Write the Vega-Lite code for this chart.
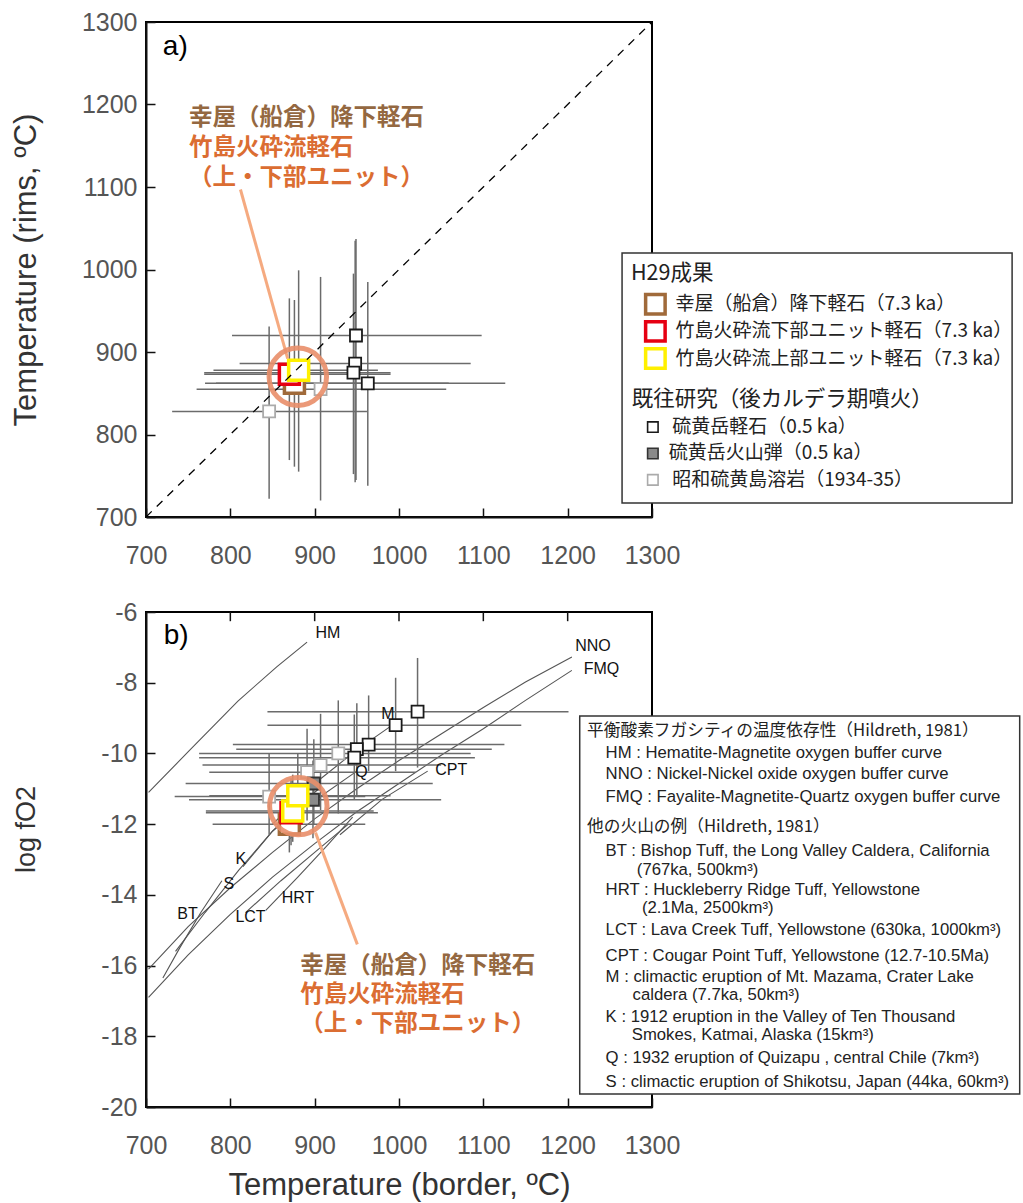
{
  "$schema": "https://vega.github.io/schema/vega-lite/v6.json",
  "padding": {"left": 8, "top": 9, "right": 0, "bottom": 2},
  "spacing": 30,
  "background": "white",
  "config": {
    "view": {"stroke": "black", "strokeWidth": 2},
    "axis": {"grid": false, "domainColor": "#111", "domainWidth": 2, "tickColor": "#111", "tickWidth": 1.5, "tickSize": -9,
      "labelFont": "Liberation Sans", "labelFontSize": 25, "labelColor": "#555", "labelOverlap": false, "labelFlush": false,
      "titleFont": "Liberation Sans", "titleFontSize": 31, "titleFontWeight": "normal", "titleColor": "#333"},
    "axisX": {"labelPadding": 35, "titlePadding": 12},
    "axisY": {"labelPadding": 18}
  },
  "datasets": {
    "pa": [
      {"g": "昭和硫黄島溶岩", "x": 846, "y": 828, "xlo": 731, "xhi": 962, "ylo": 722, "yhi": 931},
      {"g": "昭和硫黄島溶岩", "x": 907, "y": 855, "xlo": 760, "xhi": 1056, "ylo": 720, "yhi": 991},
      {"g": "硫黄岳軽石", "x": 949, "y": 920, "xlo": 802, "xhi": 1098, "ylo": 745, "yhi": 1037},
      {"g": "硫黄岳軽石", "x": 948, "y": 886, "xlo": 811, "xhi": 1085, "ylo": 742, "yhi": 1035},
      {"g": "硫黄岳軽石", "x": 946, "y": 875, "xlo": 769, "xhi": 990, "ylo": 752, "yhi": 995},
      {"g": "硫黄岳軽石", "x": 963, "y": 862, "xlo": 770, "xhi": 1126, "ylo": 738, "yhi": 985},
      {"g": "幸屋", "x": 876, "y": 862, "xlo": 783, "xhi": 1059, "ylo": 761, "yhi": 963},
      {"g": "竹島下部", "x": 870, "y": 873, "xlo": 769, "xhi": 990, "ylo": 769, "yhi": 965},
      {"g": "竹島上部", "x": 881, "y": 878, "xlo": 780, "xhi": 975, "ylo": 755, "yhi": 999}
    ],
    "pb": [
      {"g": "硫黄岳軽石", "x": 1022, "y": -8.82, "xlo": 844, "xhi": 1201, "ylo": -10.4, "yhi": -7.3},
      {"g": "硫黄岳軽石", "x": 996, "y": -9.2, "xlo": 844, "xhi": 1145, "ylo": -10.5, "yhi": -7.86},
      {"g": "硫黄岳軽石", "x": 964, "y": -9.75, "xlo": 803, "xhi": 1125, "ylo": -10.5, "yhi": -8.36},
      {"g": "硫黄岳軽石", "x": 950, "y": -9.88, "xlo": 807, "xhi": 1110, "ylo": -11.2, "yhi": -8.58},
      {"g": "硫黄岳軽石", "x": 947, "y": -10.12, "xlo": 763, "xhi": 1090, "ylo": -11.3, "yhi": -8.9},
      {"g": "昭和硫黄島溶岩", "x": 928, "y": -10.0, "xlo": 763, "xhi": 1085, "ylo": -11.7, "yhi": -8.5},
      {"g": "昭和硫黄島溶岩", "x": 907, "y": -10.33, "xlo": 767, "xhi": 1050, "ylo": -11.6, "yhi": -8.88},
      {"g": "昭和硫黄島溶岩", "x": 891, "y": -10.53, "xlo": 775, "xhi": 1020, "ylo": -11.9, "yhi": -9.3},
      {"g": "昭和硫黄島溶岩", "x": 846, "y": -11.22, "xlo": 734, "xhi": 960, "ylo": -12.3, "yhi": -10.0},
      {"g": "硫黄岳火山弾", "x": 899, "y": -10.85, "xlo": 747, "xhi": 1040, "ylo": -12.0, "yhi": -9.6},
      {"g": "硫黄岳火山弾", "x": 898, "y": -11.31, "xlo": 751, "xhi": 1050, "ylo": -12.4, "yhi": -10.2},
      {"g": "幸屋", "x": 870, "y": -12.0, "xlo": 779, "xhi": 960, "ylo": -12.8, "yhi": -11.0},
      {"g": "竹島下部", "x": 872, "y": -11.68, "xlo": 771, "xhi": 975, "ylo": -12.6, "yhi": -10.7},
      {"g": "竹島上部", "x": 874, "y": -11.63, "xlo": 771, "xhi": 970, "ylo": -12.5, "yhi": -10.6},
      {"g": "竹島上部", "x": 880, "y": -11.2, "xlo": 775, "xhi": 990, "ylo": -12.3, "yhi": -10.0}
    ],
    "curves": [
      {"c": "HM", "x": 703, "y": -11.1}, {"c": "HM", "x": 751, "y": -9.93}, {"c": "HM", "x": 809, "y": -8.52}, {"c": "HM", "x": 855, "y": -7.55}, {"c": "HM", "x": 891, "y": -6.85},
      {"c": "NNO", "x": 703, "y": -16.1}, {"c": "NNO", "x": 750, "y": -14.9}, {"c": "NNO", "x": 800, "y": -13.8}, {"c": "NNO", "x": 850, "y": -12.8}, {"c": "NNO", "x": 900, "y": -11.85}, {"c": "NNO", "x": 950, "y": -11.0}, {"c": "NNO", "x": 1000, "y": -10.2}, {"c": "NNO", "x": 1050, "y": -9.45}, {"c": "NNO", "x": 1100, "y": -8.7}, {"c": "NNO", "x": 1150, "y": -7.98}, {"c": "NNO", "x": 1205, "y": -7.27},
      {"c": "FMQ", "x": 703, "y": -16.9}, {"c": "FMQ", "x": 750, "y": -15.7}, {"c": "FMQ", "x": 800, "y": -14.55}, {"c": "FMQ", "x": 850, "y": -13.5}, {"c": "FMQ", "x": 900, "y": -12.55}, {"c": "FMQ", "x": 950, "y": -11.65}, {"c": "FMQ", "x": 1000, "y": -10.85}, {"c": "FMQ", "x": 1050, "y": -10.05}, {"c": "FMQ", "x": 1100, "y": -9.3}, {"c": "FMQ", "x": 1150, "y": -8.5}, {"c": "FMQ", "x": 1205, "y": -7.65},
      {"c": "BT", "x": 720, "y": -16.35}, {"c": "BT", "x": 740, "y": -15.5}, {"c": "BT", "x": 765, "y": -14.5}, {"c": "BT", "x": 790, "y": -13.6},
      {"c": "S", "x": 735, "y": -15.6}, {"c": "S", "x": 770, "y": -14.5}, {"c": "S", "x": 810, "y": -13.3}, {"c": "S", "x": 850, "y": -12.2}, {"c": "S", "x": 895, "y": -11.3},
      {"c": "K", "x": 815, "y": -13.2}, {"c": "K", "x": 850, "y": -12.2}, {"c": "K", "x": 880, "y": -11.5}, {"c": "K", "x": 905, "y": -11.0},
      {"c": "M", "x": 850, "y": -12.0}, {"c": "M", "x": 900, "y": -10.85}, {"c": "M", "x": 950, "y": -9.9}, {"c": "M", "x": 995, "y": -9.15},
      {"c": "Q", "x": 890, "y": -11.5}, {"c": "Q", "x": 950, "y": -10.5},
      {"c": "LCT", "x": 818, "y": -14.5}, {"c": "LCT", "x": 860, "y": -13.6}, {"c": "LCT", "x": 900, "y": -12.8}, {"c": "LCT", "x": 940, "y": -12.0},
      {"c": "HRT", "x": 842, "y": -14.44}, {"c": "HRT", "x": 880, "y": -13.5}, {"c": "HRT", "x": 915, "y": -12.6}, {"c": "HRT", "x": 945, "y": -11.8},
      {"c": "CPT", "x": 930, "y": -12.3}, {"c": "CPT", "x": 980, "y": -11.3}, {"c": "CPT", "x": 1034, "y": -10.5}
    ],
    "curveLabels": [
      {"t": "HM", "x": 901, "y": -6.58}, {"t": "NNO", "x": 1209, "y": -6.97}, {"t": "FMQ", "x": 1219, "y": -7.62},
      {"t": "CPT", "x": 1043, "y": -10.48}, {"t": "M", "x": 979, "y": -8.88}, {"t": "Q", "x": 948, "y": -10.53},
      {"t": "K", "x": 806, "y": -12.98}, {"t": "S", "x": 792, "y": -13.68}, {"t": "BT", "x": 737, "y": -14.54},
      {"t": "LCT", "x": 806, "y": -14.62}, {"t": "HRT", "x": 861, "y": -14.09}
    ],
    "topTicks": [{"x": 800}, {"x": 900}, {"x": 1000}, {"x": 1100}, {"x": 1200}],
    "legA_sym": [
      {"g": "幸屋", "x": 1304, "y": 958}, {"g": "竹島下部", "x": 1304, "y": 925}, {"g": "竹島上部", "x": 1304, "y": 892},
      {"g": "硫黄岳軽石", "x": 1301, "y": 809}, {"g": "硫黄岳火山弾", "x": 1301, "y": 777}, {"g": "昭和硫黄島溶岩", "x": 1301, "y": 745}
    ],
    "legA_txt": [
      {"t": "幸屋（船倉）降下軽石（7.3 ka）", "x": 1328, "y": 958},
      {"t": "竹島火砕流下部ユニット軽石（7.3 ka）", "x": 1328, "y": 925},
      {"t": "竹島火砕流上部ユニット軽石（7.3 ka）", "x": 1328, "y": 892},
      {"t": "硫黄岳軽石（0.5 ka）", "x": 1324, "y": 809},
      {"t": "硫黄岳火山弾（0.5 ka）", "x": 1320, "y": 777},
      {"t": "昭和硫黄島溶岩（1934-35）", "x": 1324, "y": 745}
    ],
    "legA_head": [
      {"t": "H29成果", "x": 1275, "y": 995},
      {"t": "既往研究（後カルデラ期噴火）", "x": 1276, "y": 842}
    ],
    "legB_head": [
      {"t": "平衡酸素フガシティの温度依存性（Hildreth, 1981）", "x": 1223, "y": -9.37},
      {"t": "他の火山の例（Hildreth, 1981）", "x": 1223, "y": -12.08}
    ],
    "legB_txt": [
      {"t": "HM : Hematite-Magnetite oxygen buffer curve", "x": 1245, "y": -9.98},
      {"t": "NNO : Nickel-Nickel oxide oxygen buffer curve", "x": 1245, "y": -10.59},
      {"t": "FMQ : Fayalite-Magnetite-Quartz oxygen buffer curve", "x": 1245, "y": -11.23},
      {"t": "BT : Bishop Tuff, the Long Valley Caldera, California", "x": 1245, "y": -12.76},
      {"t": "(767ka, 500km³)", "x": 1282, "y": -13.3},
      {"t": "HRT : Huckleberry Ridge Tuff, Yellowstone", "x": 1245, "y": -13.87},
      {"t": "(2.1Ma, 2500km³)", "x": 1288, "y": -14.38},
      {"t": "LCT : Lava Creek Tuff, Yellowstone (630ka, 1000km³)", "x": 1245, "y": -15.0},
      {"t": "CPT : Cougar Point Tuff, Yellowstone (12.7-10.5Ma)", "x": 1245, "y": -15.73},
      {"t": "M : climactic eruption  of Mt. Mazama, Crater Lake", "x": 1245, "y": -16.31},
      {"t": "caldera (7.7ka, 50km³)", "x": 1277, "y": -16.83},
      {"t": "K : 1912 eruption in the Valley of Ten Thousand", "x": 1245, "y": -17.45},
      {"t": "Smokes, Katmai, Alaska (15km³)", "x": 1276, "y": -17.96},
      {"t": "Q : 1932 eruption of Quizapu , central Chile (7km³)", "x": 1245, "y": -18.62},
      {"t": "S : climactic eruption of Shikotsu, Japan (44ka, 60km³)", "x": 1245, "y": -19.28}
    ],
    "annA": [
      {"k": "幸屋", "t": "幸屋（船倉）降下軽石", "x": 751, "y": 1184},
      {"k": "竹島", "t": "竹島火砕流軽石", "x": 751, "y": 1147},
      {"k": "竹島", "t": "（上・下部ユニット）", "x": 751, "y": 1111}
    ],
    "annB": [
      {"k": "幸屋", "t": "幸屋（船倉）降下軽石", "x": 883, "y": -16.01},
      {"k": "竹島", "t": "竹島火砕流軽石", "x": 883, "y": -16.84},
      {"k": "竹島", "t": "（上・下部ユニット）", "x": 883, "y": -17.66}
    ]
  },
  "vconcat": [
    {
      "width": 506,
      "height": 495,
      "layer": [
        {
          "data": {"name": "pa"},
          "mark": {"type": "rule", "color": "#6b6b6b", "strokeWidth": 1.5},
          "encoding": {
            "x": {"field": "xlo", "type": "quantitative", "scale": {"domain": [700, 1300], "nice": false, "zero": false},
              "axis": {"values": [700, 800, 900, 1000, 1100, 1200, 1300], "format": "d", "title": null}},
            "x2": {"field": "xhi"},
            "y": {"field": "y", "type": "quantitative", "scale": {"domain": [700, 1300], "nice": false, "zero": false},
              "axis": {"values": [700, 800, 900, 1000, 1100, 1200, 1300], "format": "d", "title": "Temperature (rims, ºC)", "titleX": -120, "titleBaseline": "middle"}}
          }
        },
        {
          "data": {"name": "pa"},
          "mark": {"type": "rule", "color": "#6b6b6b", "strokeWidth": 1.5},
          "encoding": {
            "x": {"field": "x", "type": "quantitative"},
            "y": {"field": "ylo", "type": "quantitative"},
            "y2": {"field": "yhi"}
          }
        },
        {
          "data": {"name": "pa"},
          "transform": [{"filter": {"field": "g", "oneOf": ["硫黄岳軽石", "硫黄岳火山弾", "昭和硫黄島溶岩"]}}],
          "mark": {"type": "point", "shape": "square", "filled": true, "opacity": 1, "size": 144, "strokeWidth": 1.8},
          "encoding": {
            "x": {"field": "x", "type": "quantitative"},
            "y": {"field": "y", "type": "quantitative"},
            "fill": {"field": "g", "type": "nominal", "legend": null, "scale": {"domain": ["幸屋", "竹島下部", "竹島上部", "硫黄岳軽石", "硫黄岳火山弾", "昭和硫黄島溶岩"], "range": ["white", "white", "white", "white", "#8a8a8a", "white"]}},
            "stroke": {"field": "g", "type": "nominal", "legend": null, "scale": {"domain": ["幸屋", "竹島下部", "竹島上部", "硫黄岳軽石", "硫黄岳火山弾", "昭和硫黄島溶岩"], "range": ["#A06A3A", "#E60012", "#FFF000", "#1a1a1a", "#333333", "#ababab"]}}
          }
        },
        {
          "data": {"name": "pa"},
          "transform": [{"filter": {"field": "g", "oneOf": ["幸屋", "竹島下部", "竹島上部"]}}],
          "mark": {"type": "point", "shape": "square", "filled": true, "opacity": 1, "size": 400, "strokeWidth": 3.5},
          "encoding": {
            "x": {"field": "x", "type": "quantitative"},
            "y": {"field": "y", "type": "quantitative"},
            "fill": {"field": "g", "type": "nominal", "legend": null},
            "stroke": {"field": "g", "type": "nominal", "legend": null}
          }
        },
        {
          "data": {"values": [{"x": 700, "y": 700}, {"x": 1300, "y": 1300}]},
          "mark": {"type": "line", "color": "black", "strokeWidth": 1.3, "strokeDash": [8, 7]},
          "encoding": {
            "x": {"field": "x", "type": "quantitative"},
            "y": {"field": "y", "type": "quantitative"}
          }
        },
        {
          "data": {"values": [{"x": 812, "y": 1097, "x2": 868, "y2": 892}]},
          "mark": {"type": "rule", "color": "#F5AA80", "strokeWidth": 3},
          "encoding": {
            "x": {"field": "x", "type": "quantitative"},
            "y": {"field": "y", "type": "quantitative"},
            "x2": {"field": "x2"},
            "y2": {"field": "y2"}
          }
        },
        {
          "data": {"values": [{"x": 880, "y": 870}]},
          "mark": {"type": "point", "shape": "circle", "filled": false, "size": 3300, "stroke": "#E98F6A", "strokeWidth": 5, "opacity": 0.9},
          "encoding": {
            "x": {"field": "x", "type": "quantitative"},
            "y": {"field": "y", "type": "quantitative"}
          }
        },
        {
          "data": {"name": "annA"},
          "mark": {"type": "text", "align": "left", "baseline": "middle", "font": "Noto Sans CJK JP", "fontSize": 23.5, "fontWeight": "bold"},
          "encoding": {
            "x": {"field": "x", "type": "quantitative"},
            "y": {"field": "y", "type": "quantitative"},
            "text": {"field": "t"},
            "color": {"field": "k", "type": "nominal", "legend": null, "scale": {"domain": ["幸屋", "竹島"], "range": ["#946841", "#DB6D32"]}}
          }
        },
        {
          "data": {"values": [{"x": 720, "y": 1270, "t": "a)"}]},
          "mark": {"type": "text", "align": "left", "baseline": "middle", "font": "Liberation Sans", "fontSize": 28, "color": "black"},
          "encoding": {
            "x": {"field": "x", "type": "quantitative"},
            "y": {"field": "y", "type": "quantitative"},
            "text": {"field": "t"}
          }
        },
        {
          "data": {"values": [{"x": 1264.5, "x2": 1727, "y": 1020, "y2": 717}]},
          "mark": {"type": "rect", "fill": "white", "stroke": "#333", "strokeWidth": 1.5},
          "encoding": {
            "x": {"field": "x", "type": "quantitative"},
            "x2": {"field": "x2"},
            "y": {"field": "y", "type": "quantitative"},
            "y2": {"field": "y2"}
          }
        },
        {
          "data": {"name": "legA_sym"},
          "transform": [{"filter": {"field": "g", "oneOf": ["幸屋", "竹島下部", "竹島上部"]}}],
          "mark": {"type": "point", "shape": "square", "filled": true, "opacity": 1, "size": 380, "strokeWidth": 3.5},
          "encoding": {
            "x": {"field": "x", "type": "quantitative"},
            "y": {"field": "y", "type": "quantitative"},
            "fill": {"field": "g", "type": "nominal", "legend": null},
            "stroke": {"field": "g", "type": "nominal", "legend": null}
          }
        },
        {
          "data": {"name": "legA_sym"},
          "transform": [{"filter": {"field": "g", "oneOf": ["硫黄岳軽石", "硫黄岳火山弾", "昭和硫黄島溶岩"]}}],
          "mark": {"type": "point", "shape": "square", "filled": true, "opacity": 1, "size": 110, "strokeWidth": 1.6},
          "encoding": {
            "x": {"field": "x", "type": "quantitative"},
            "y": {"field": "y", "type": "quantitative"},
            "fill": {"field": "g", "type": "nominal", "legend": null},
            "stroke": {"field": "g", "type": "nominal", "legend": null}
          }
        },
        {
          "data": {"name": "legA_head"},
          "mark": {"type": "text", "align": "left", "baseline": "middle", "font": "Noto Sans CJK JP", "fontSize": 21.5, "color": "#222"},
          "encoding": {
            "x": {"field": "x", "type": "quantitative"},
            "y": {"field": "y", "type": "quantitative"},
            "text": {"field": "t"}
          }
        },
        {
          "data": {"name": "legA_txt"},
          "mark": {"type": "text", "align": "left", "baseline": "middle", "font": "Noto Sans CJK JP", "fontSize": 19, "color": "#222"},
          "encoding": {
            "x": {"field": "x", "type": "quantitative"},
            "y": {"field": "y", "type": "quantitative"},
            "text": {"field": "t"}
          }
        }
      ]
    },
    {
      "width": 506,
      "height": 495,
      "layer": [
        {
          "data": {"name": "curves"},
          "mark": {"type": "line", "color": "#555", "strokeWidth": 1.1},
          "encoding": {
            "x": {"field": "x", "type": "quantitative", "scale": {"domain": [700, 1300], "nice": false, "zero": false},
              "axis": {"values": [700, 800, 900, 1000, 1100, 1200, 1300], "format": "d", "title": "Temperature (border, ºC)"}},
            "y": {"field": "y", "type": "quantitative", "scale": {"domain": [-20, -6], "nice": false, "zero": false},
              "axis": {"values": [-20, -18, -16, -14, -12, -10, -8, -6], "title": "log fO2", "titleFontSize": 27, "titleX": -120, "titleY": 217, "titleBaseline": "middle", "labelExpr": "replace(datum.label, '−', '-')"}},
            "detail": {"field": "c"}
          }
        },
        {
          "data": {"name": "topTicks"},
          "mark": {"type": "rule", "color": "#111", "strokeWidth": 1.5},
          "encoding": {
            "x": {"field": "x", "type": "quantitative"},
            "y": {"datum": -6},
            "y2": {"datum": -6.26}
          }
        },
        {
          "data": {"name": "pb"},
          "mark": {"type": "rule", "color": "#6b6b6b", "strokeWidth": 1.5},
          "encoding": {
            "x": {"field": "xlo", "type": "quantitative"},
            "x2": {"field": "xhi"},
            "y": {"field": "y", "type": "quantitative"}
          }
        },
        {
          "data": {"name": "pb"},
          "mark": {"type": "rule", "color": "#6b6b6b", "strokeWidth": 1.5},
          "encoding": {
            "x": {"field": "x", "type": "quantitative"},
            "y": {"field": "ylo", "type": "quantitative"},
            "y2": {"field": "yhi"}
          }
        },
        {
          "data": {"name": "pb"},
          "transform": [{"filter": {"field": "g", "oneOf": ["硫黄岳軽石", "硫黄岳火山弾", "昭和硫黄島溶岩"]}}],
          "mark": {"type": "point", "shape": "square", "filled": true, "opacity": 1, "size": 144, "strokeWidth": 1.8},
          "encoding": {
            "x": {"field": "x", "type": "quantitative"},
            "y": {"field": "y", "type": "quantitative"},
            "fill": {"field": "g", "type": "nominal", "legend": null, "scale": {"domain": ["幸屋", "竹島下部", "竹島上部", "硫黄岳軽石", "硫黄岳火山弾", "昭和硫黄島溶岩"], "range": ["white", "white", "white", "white", "#8a8a8a", "white"]}},
            "stroke": {"field": "g", "type": "nominal", "legend": null, "scale": {"domain": ["幸屋", "竹島下部", "竹島上部", "硫黄岳軽石", "硫黄岳火山弾", "昭和硫黄島溶岩"], "range": ["#A06A3A", "#E60012", "#FFF000", "#1a1a1a", "#333333", "#ababab"]}}
          }
        },
        {
          "data": {"name": "pb"},
          "transform": [{"filter": {"field": "g", "oneOf": ["幸屋", "竹島下部", "竹島上部"]}}],
          "mark": {"type": "point", "shape": "square", "filled": true, "opacity": 1, "size": 400, "strokeWidth": 3.5},
          "encoding": {
            "x": {"field": "x", "type": "quantitative"},
            "y": {"field": "y", "type": "quantitative"},
            "fill": {"field": "g", "type": "nominal", "legend": null},
            "stroke": {"field": "g", "type": "nominal", "legend": null}
          }
        },
        {
          "data": {"name": "curveLabels"},
          "mark": {"type": "text", "align": "left", "baseline": "middle", "font": "Liberation Sans", "fontSize": 16, "color": "#111"},
          "encoding": {
            "x": {"field": "x", "type": "quantitative"},
            "y": {"field": "y", "type": "quantitative"},
            "text": {"field": "t"}
          }
        },
        {
          "data": {"values": [{"x": 901, "y": -12.24, "x2": 950.6, "y2": -15.4}]},
          "mark": {"type": "rule", "color": "#F5AA80", "strokeWidth": 3},
          "encoding": {
            "x": {"field": "x", "type": "quantitative"},
            "y": {"field": "y", "type": "quantitative"},
            "x2": {"field": "x2"},
            "y2": {"field": "y2"}
          }
        },
        {
          "data": {"values": [{"x": 880.6, "y": -11.49}]},
          "mark": {"type": "point", "shape": "circle", "filled": false, "size": 3300, "stroke": "#E98F6A", "strokeWidth": 5, "opacity": 0.9},
          "encoding": {
            "x": {"field": "x", "type": "quantitative"},
            "y": {"field": "y", "type": "quantitative"}
          }
        },
        {
          "data": {"name": "annB"},
          "mark": {"type": "text", "align": "left", "baseline": "middle", "font": "Noto Sans CJK JP", "fontSize": 23.5, "fontWeight": "bold"},
          "encoding": {
            "x": {"field": "x", "type": "quantitative"},
            "y": {"field": "y", "type": "quantitative"},
            "text": {"field": "t"},
            "color": {"field": "k", "type": "nominal", "legend": null, "scale": {"domain": ["幸屋", "竹島"], "range": ["#946841", "#DB6D32"]}}
          }
        },
        {
          "data": {"values": [{"x": 721, "y": -6.68, "t": "b)"}]},
          "mark": {"type": "text", "align": "left", "baseline": "middle", "font": "Liberation Sans", "fontSize": 28, "color": "black"},
          "encoding": {
            "x": {"field": "x", "type": "quantitative"},
            "y": {"field": "y", "type": "quantitative"},
            "text": {"field": "t"}
          }
        },
        {
          "data": {"values": [{"x": 1214.3, "x2": 1736, "y": -8.94, "y2": -19.63}]},
          "mark": {"type": "rect", "fill": "white", "stroke": "#333", "strokeWidth": 1.5},
          "encoding": {
            "x": {"field": "x", "type": "quantitative"},
            "x2": {"field": "x2"},
            "y": {"field": "y", "type": "quantitative"},
            "y2": {"field": "y2"}
          }
        },
        {
          "data": {"name": "legB_head"},
          "mark": {"type": "text", "align": "left", "baseline": "middle", "font": "Noto Sans CJK JP", "fontSize": 16.7, "color": "#222"},
          "encoding": {
            "x": {"field": "x", "type": "quantitative"},
            "y": {"field": "y", "type": "quantitative"},
            "text": {"field": "t"}
          }
        },
        {
          "data": {"name": "legB_txt"},
          "mark": {"type": "text", "align": "left", "baseline": "middle", "font": "Liberation Sans", "fontSize": 16.7, "color": "#222"},
          "encoding": {
            "x": {"field": "x", "type": "quantitative"},
            "y": {"field": "y", "type": "quantitative"},
            "text": {"field": "t"}
          }
        }
      ]
    }
  ]
}
